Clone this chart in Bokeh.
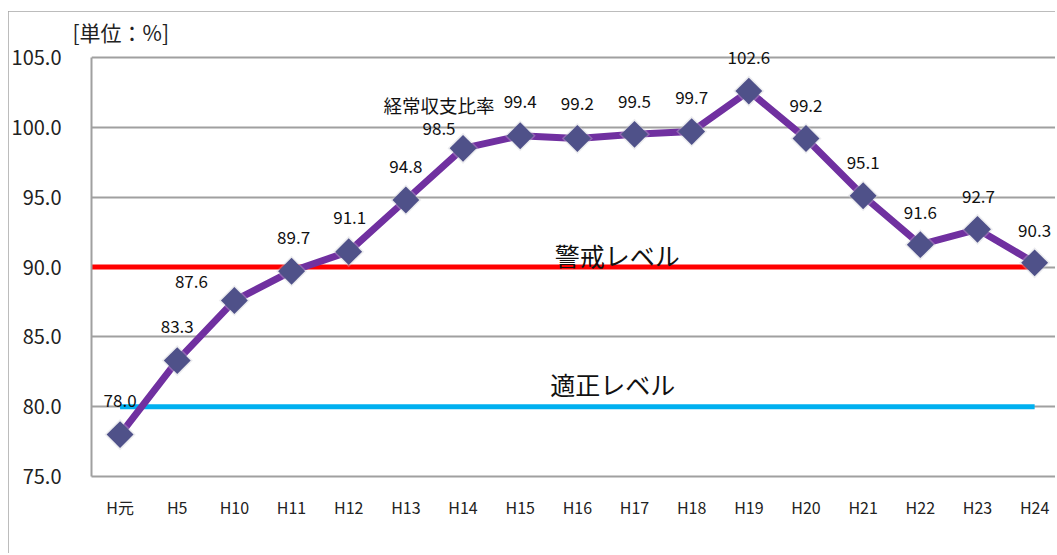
import numpy as np
from bokeh.plotting import figure
from bokeh.models import Range1d, FixedTicker, ColumnDataSource
from bokeh.core.properties import value
from bokeh.embed import file_html
from bokeh.resources import INLINE

# ---- data ----
categories = ["H元", "H5", "H10", "H11", "H12", "H13", "H14", "H15", "H16",
              "H17", "H18", "H19", "H20", "H21", "H22", "H23", "H24"]
ratio = [78.0, 83.3, 87.6, 89.7, 91.1, 94.8, 98.5, 99.4, 99.2,
         99.5, 99.7, 102.6, 99.2, 95.1, 91.6, 92.7, 90.3]
series_name = "経常収支比率"
unit_label = "[単位：%]"
warning_level = 90.0
warning_label = "警戒レベル"
proper_level = 80.0
proper_label = "適正レベル"
y_ticks = [75, 80, 85, 90, 95, 100, 105]

# label placement (pixel offsets, style only)
label_dx = [0, 0, -43, 2, 1, 0, -24, 0, 0, 0, 0, 0, 0, 0, 0, 1, 0]
label_dy = [-34, -34, -19, -34, -34, -33, -20, -34, -35, -33, -34, -34, -33, -33, -32, -33, -32]

FONT = "Noto Sans CJK JP"
x = np.arange(len(categories)) + 0.5

p = figure(width=1049, height=544, output_backend="svg", toolbar_location=None,
           x_range=Range1d(0, 16.9), y_range=Range1d(75, 105.72),
           min_border_left=83, min_border_right=0, min_border_top=36, min_border_bottom=79)
p.styles = {"outline": "2px solid #a6a6a6", "outline-offset": "-2px",
            "margin-top": "11px", "margin-left": "8px",
            "clip-path": "inset(0px 2px 2px 0px)"}
p.outline_line_color = None
p.background_fill_color = "white"
p.border_fill_color = "white"

# unit label as title
p.title.text = unit_label
p.title.align = "left"
p.title.offset = -19
p.title.standoff = 2
p.title.text_font = FONT
p.title.text_font_size = "21px"
p.title.text_font_style = "normal"
p.title.text_color = "#222222"

# axes
p.xaxis.ticker = FixedTicker(ticks=list(x))
p.xaxis.major_label_overrides = {float(v): c for v, c in zip(x, categories)}
p.yaxis.ticker = FixedTicker(ticks=y_ticks)
p.yaxis.major_label_overrides = {t: f"{t:.1f}" for t in y_ticks}
p.yaxis.bounds = (y_ticks[0], y_ticks[-1])
for ax in (p.xaxis[0], p.yaxis[0]):
    ax.axis_line_color = "#a0a0a0"
    ax.axis_line_width = 2
    ax.major_tick_line_color = None
    ax.minor_tick_line_color = None
    ax.major_label_text_font = FONT
    ax.major_label_text_color = "#222222"
p.xaxis.major_label_text_font_size = "16px"
p.xaxis.major_label_standoff = 12
p.yaxis.major_label_text_font_size = "20px"
p.yaxis.major_label_standoff = 24
p.xgrid.grid_line_color = None
p.ygrid.grid_line_color = "#a0a0a0"
p.ygrid.grid_line_width = 2

# reference lines
p.segment(x0=[0], y0=[warning_level], x1=[x[-1]], y1=[warning_level],
          line_color="#ff0000", line_width=5)
p.segment(x0=[x[0]], y0=[proper_level], x1=[x[-1]], y1=[proper_level],
          line_color="#00b0f0", line_width=5)
p.text(x=[9.2], y=[warning_level], text=[warning_label], y_offset=-12,
       text_font=value(FONT), text_font_size="25px", text_align="center",
       text_baseline="middle", text_color="#111111")
p.text(x=[9.12], y=[proper_level], text=[proper_label], y_offset=-23,
       text_font=value(FONT), text_font_size="25px", text_align="center",
       text_baseline="middle", text_color="#111111")

# series
src = ColumnDataSource(dict(x=x, y=ratio, lbl=[f"{v:.1f}" for v in ratio],
                            dx=label_dx, dy=label_dy))
p.line("x", "y", source=src, line_color="#7030a0", line_width=7, line_join="round")
p.scatter("x", "y", source=src, marker="square", size=22, angle=np.pi / 4,
          fill_color="#c8c8d0", line_color=None, fill_alpha=0.35)
p.scatter("x", "y", source=src, marker="square", size=19, angle=np.pi / 4,
          fill_color="#4f5189", line_color=None)
p.text("x", "y", text="lbl", source=src, x_offset="dx", y_offset="dy",
       text_font=value(FONT), text_font_size="17px", text_align="center",
       text_baseline="middle", text_color="#111111")
p.text(x=[x[6]], y=[ratio[6]], text=[series_name], x_offset=-24, y_offset=-43,
       text_font=value(FONT), text_font_size="18.5px", text_align="center",
       text_baseline="middle", text_color="#111111")

open("out.html", "w").write(file_html(p, INLINE))
